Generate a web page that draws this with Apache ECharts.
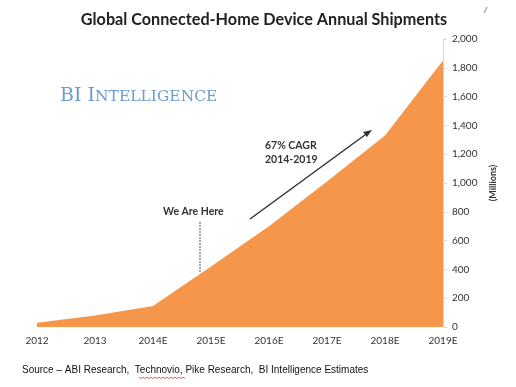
<!DOCTYPE html>
<html>
<head>
<meta charset="utf-8">
<script src="https://cdn.jsdelivr.net/npm/echarts@6/dist/echarts.min.js"></script>
<style>html,body{margin:0;padding:0;background:#fff}#c{width:516px;height:387px}</style>
</head>
<body>
<div id="c"></div>
<script>
const categories = ['2012','2013','2014E','2015E','2016E','2017E','2018E','2019E'];
const shipments = [30, 80, 145, 420, 700, 1010, 1330, 1850];
const yTicks = [0, 200, 400, 600, 800, 1000, 1200, 1400, 1600, 1800, 2000];

const chart = echarts.init(document.getElementById('c'));
const font = 'Lato, "Open Sans", sans-serif';
chart.setOption({
  animation: false,
  backgroundColor: '#fff',
  title: {
    text: 'Global Connected-Home Device Annual Shipments',
    left: 259, top: 7, textAlign: 'center',
    textStyle: {fontFamily: font, fontWeight: 'bold', fontSize: 16.2, color: '#222'}
  },
  grid: {left: 37, right: 73, top: 39, bottom: 60},
  xAxis: {
    type: 'category', data: categories, boundaryGap: false,
    axisLine: {show: false}, axisTick: {show: false},
    axisLabel: {fontFamily: font, fontSize: 10, color: '#333', margin: 9, interval: 0}
  },
  yAxis: {
    type: 'value', position: 'right', min: 0, max: 2000, interval: 200,
    name: '(Millions)', nameLocation: 'middle', nameGap: 46, nameRotate: 90,
    nameTextStyle: {fontFamily: font, fontSize: 9, fontWeight: 'bold', color: '#333'},
    axisLine: {show: true, lineStyle: {color: '#d9d9d9'}},
    axisTick: {show: true, length: 4, lineStyle: {color: '#d9d9d9'}},
    splitLine: {show: false},
    axisLabel: {fontFamily: font, fontSize: 10, color: '#333', margin: 9,
      formatter: v => yTicks.includes(v) ? v.toLocaleString('en-US') : ''}
  },
  series: [{
    type: 'line', data: shipments, symbol: 'none',
    lineStyle: {width: 0},
    areaStyle: {color: '#F5964A', opacity: 1}
  }],
  graphic: [
    {type: 'text', left: 60, top: 87, style: {
      text: '{a|BI I}{b|NTELLIGENCE}',
      rich: {
        a: {fontFamily: '"DejaVu Serif", serif', fontSize: 19, fill: '#6b9bd0'},
        b: {fontFamily: '"DejaVu Serif", serif', fontSize: 15.5, fill: '#6b9bd0'}
      }}},
    {type: 'text', left: 163, top: 206, style: {text: 'We Are Here', font: 'bold 10.5px ' + font, fill: '#333'}},
    {type: 'line', shape: {x1: 200, y1: 222, x2: 200, y2: 272}, style: {stroke: '#555', lineWidth: 1, lineDash: [2, 1]}},
    {type: 'text', left: 265, top: 139, style: {text: '67% CAGR\n2014-2019', font: 'bold 10.5px ' + font, fill: '#333', lineHeight: 14}},
    {type: 'line', shape: {x1: 250, y1: 219, x2: 369, y2: 132}, style: {stroke: '#333', lineWidth: 1.5}},
    {type: 'polygon', shape: {points: [[372, 130], [363, 132], [367, 137]]}, style: {fill: '#333'}},
    {type: 'line', shape: {x1: 484, y1: 13, x2: 487, y2: 7}, style: {stroke: '#888', lineWidth: 1}},
    {type: 'text', left: 22, top: 365, style: {text: 'Source – ABI Research,  Technovio, Pike Research,  BI Intelligence Estimates', font: '10px "Liberation Sans", Arial, sans-serif', fill: '#111'}},
    {type: 'polyline', shape: {points: [[139,377],[141,378.5],[143,377],[145,378.5],[147,377],[149,378.5],[151,377],[153,378.5],[155,377],[157,378.5],[159,377],[161,378.5],[163,377],[165,378.5],[167,377],[169,378.5],[171,377],[173,378.5],[175,377],[177,378.5],[179,377],[181,378.5],[183,377],[185,378.5]]}, style: {stroke: '#d33', lineWidth: 0.8, fill: null}}
  ]
});
</script>
</body>
</html>
